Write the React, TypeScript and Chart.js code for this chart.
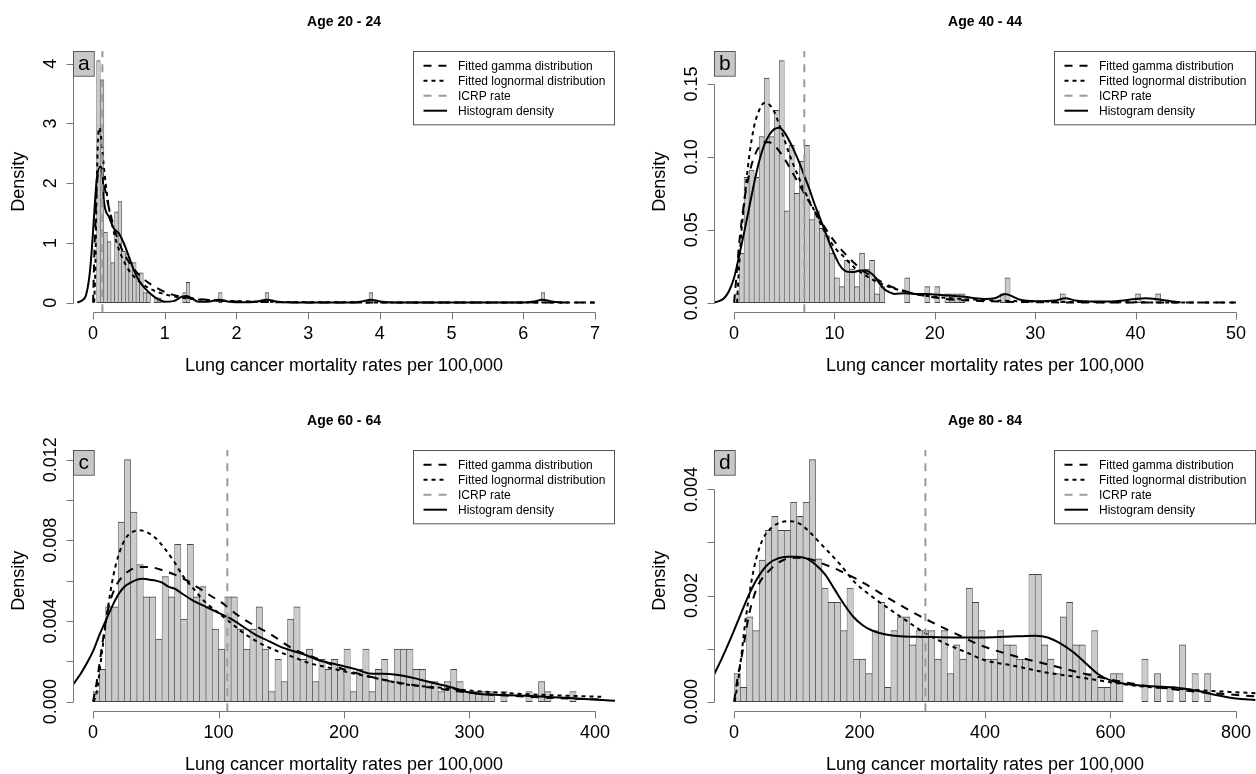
import React, { useEffect, useRef } from "react";
import { Chart, registerables } from "chart.js";

Chart.register(...registerables);

type Pt = [number, number];

const FONT = '"Liberation Sans", Arial, Helvetica, sans-serif';
const X_TITLE = "Lung cancer mortality rates per 100,000";
const Y_TITLE = "Density";
const LEGEND_TEXT = [
  "Fitted gamma distribution",
  "Fitted lognormal distribution",
  "ICRP rate",
  "Histogram density",
];

// ---------- Age 20 - 24 ----------
const A_TITLE = "Age 20 - 24";
const A_BIN_WIDTH = 0.05;
const A_BIN_LEFT = [0.05, 0.1, 0.15, 0.2, 0.25, 0.3, 0.35, 0.4, 0.45, 0.5, 0.55, 0.6, 0.65, 0.7, 0.75, 0.85, 0.9, 1.25, 1.3, 1.75, 2.4, 3.85, 6.25];
const A_DENSITY = [4.05, 3.73, 1.18, 1.02, 0.67, 1.52, 1.69, 0.86, 0.82, 0.67, 0.67, 0.5, 0.5, 0.17, 0.17, 0.08, 0.08, 0.17, 0.34, 0.17, 0.17, 0.17, 0.17];
const A_KDE: Pt[] = [
  [-0.22, 0], [-0.15, 0.04], [-0.1, 0.12], [-0.05, 0.45], [-0.02, 0.85], [0.01, 1.38], [0.05, 2.05],
  [0.1, 2.28], [0.13, 2.2], [0.15, 1.71], [0.22, 1.44], [0.29, 1.24], [0.36, 1.16], [0.43, 0.99],
  [0.5, 0.77], [0.57, 0.54], [0.64, 0.37], [0.73, 0.23], [0.83, 0.12], [0.92, 0.05], [1.0, 0.015],
  [1.12, 0.025], [1.24, 0.1], [1.31, 0.11], [1.38, 0.07], [1.47, 0.015], [1.6, 0.015], [1.75, 0.05],
  [1.9, 0.015], [2.1, 0.005], [2.3, 0.02], [2.42, 0.05], [2.55, 0.02], [2.75, 0.003], [3.6, 0.003],
  [3.75, 0.02], [3.87, 0.05], [4.0, 0.02], [4.2, 0.003], [6.0, 0.003], [6.15, 0.02], [6.27, 0.05],
  [6.4, 0.02], [6.55, 0],
];
const A_GAMMA: Pt[] = [
  [0.0, 0], [0.02, 0.9], [0.05, 1.9], [0.08, 2.2], [0.11, 2.22], [0.15, 2.0], [0.2, 1.7], [0.25, 1.45],
  [0.3, 1.22], [0.4, 0.9], [0.5, 0.68], [0.6, 0.52], [0.7, 0.4], [0.8, 0.31], [0.9, 0.24], [1.0, 0.18],
  [1.15, 0.12], [1.3, 0.085], [1.5, 0.055], [1.75, 0.032], [2.0, 0.02], [2.5, 0.008], [3, 0.003],
  [4, 0.0005], [5, 0.0001], [7, 0],
];
const A_LNORM: Pt[] = [
  [0.015, 0], [0.03, 0.5], [0.05, 1.9], [0.07, 2.75], [0.09, 2.93], [0.11, 2.8], [0.14, 2.4], [0.18, 1.95],
  [0.22, 1.6], [0.27, 1.28], [0.33, 1.0], [0.4, 0.77], [0.5, 0.54], [0.6, 0.4], [0.7, 0.3], [0.85, 0.2],
  [1.0, 0.14], [1.2, 0.09], [1.5, 0.05], [2.0, 0.025], [2.5, 0.013], [3, 0.008], [4, 0.003], [5, 0.0015],
  [7, 0.0004],
];
const A_ICRP = 0.13;
const A_XLIM = [0, 7];
const A_YLIM = [0, 4.05];
const A_X_TICKS = [0, 1, 2, 3, 4, 5, 6, 7];
const A_Y_TICKS = [0, 1, 2, 3, 4];
const A_Y_LABELS = ["0", "1", "2", "3", "4"];

// ---------- Age 40 - 44 ----------
const B_TITLE = "Age 40 - 44";
const B_BIN_START = 0;
const B_BIN_WIDTH = 0.5;
const B_DENSITY = [
  0.006, 0.034, 0.086, 0.091, 0.086, 0.114, 0.154, 0.114, 0.132, 0.166,
  0.063, 0.108, 0.075, 0.097, 0.108, 0.057, 0.063, 0.051, 0.046, 0.034,
  0.017, 0.011, 0.029, 0.023, 0.011, 0.034, 0.023, 0.029, 0.006, 0.011,
  0, 0, 0, 0, 0.017, 0, 0, 0, 0.011, 0,
  0.011, 0, 0.006, 0.006, 0.006, 0.006, 0, 0, 0, 0,
  0, 0, 0, 0.006, 0.017, 0, 0, 0, 0, 0,
  0, 0, 0, 0, 0, 0.006, 0, 0, 0, 0,
  0, 0, 0, 0, 0, 0, 0, 0, 0, 0,
  0.006, 0, 0, 0, 0.006,
];
const B_KDE: Pt[] = [
  [-2.1, 0], [-1.5, 0.001], [-1, 0.003], [-0.5, 0.008], [0, 0.017], [0.5, 0.032], [1, 0.048], [1.5, 0.065],
  [2, 0.082], [2.5, 0.097], [3, 0.108], [3.5, 0.115], [4, 0.119], [4.5, 0.12], [5, 0.117], [5.5, 0.111],
  [6, 0.104], [6.5, 0.096], [7, 0.087], [7.5, 0.078], [8, 0.068], [8.5, 0.059], [9, 0.05], [9.5, 0.041],
  [10, 0.033], [10.5, 0.026], [11, 0.022], [11.5, 0.021], [12, 0.021], [12.5, 0.022], [13, 0.022],
  [13.5, 0.021], [14, 0.018], [14.5, 0.013], [15, 0.009], [15.5, 0.007], [16, 0.006], [17, 0.0065],
  [18, 0.006], [19, 0.006], [20, 0.0055], [21, 0.005], [22, 0.0045], [23, 0.004], [24, 0.003], [25, 0.0025],
  [26, 0.003], [27, 0.006], [27.5, 0.005], [28.5, 0.002], [30, 0.001], [32, 0.0015], [33, 0.003],
  [34, 0.0015], [36, 0.0008], [38, 0.001], [40, 0.0025], [41, 0.003], [42, 0.0025], [43.5, 0.001],
  [44.5, 0.0002],
];
const B_GAMMA: Pt[] = [
  [0, 0], [0.2, 0.015], [0.5, 0.04], [1, 0.069], [1.5, 0.088], [2, 0.1], [2.5, 0.107], [3, 0.11],
  [3.5, 0.11], [4, 0.108], [4.5, 0.104], [5, 0.099], [6, 0.087], [7, 0.075], [8, 0.063], [9, 0.052],
  [10, 0.042], [11, 0.034], [12, 0.027], [13, 0.021], [14, 0.017], [15, 0.013], [16, 0.01], [17, 0.008],
  [18, 0.006], [20, 0.0035], [22, 0.002], [25, 0.001], [30, 0.0003], [35, 0.0001], [50, 0],
];
const B_LNORM: Pt[] = [
  [0.3, 0], [0.5, 0.025], [0.75, 0.05], [1, 0.068], [1.5, 0.1], [2, 0.121], [2.5, 0.132], [3, 0.137],
  [3.5, 0.136], [4, 0.131], [4.5, 0.122], [5, 0.112], [5.5, 0.102], [6, 0.093], [6.5, 0.085], [7, 0.077],
  [8, 0.063], [9, 0.049], [10, 0.038], [11, 0.031], [12, 0.024], [13, 0.019], [14, 0.015], [15, 0.012],
  [16, 0.0095], [18, 0.006], [20, 0.004], [25, 0.0017], [30, 0.0008], [40, 0.0002], [50, 0.0001],
];
const B_ICRP = 7.0;
const B_XLIM = [0, 50];
const B_YLIM = [0, 0.166];
const B_X_TICKS = [0, 10, 20, 30, 40, 50];
const B_Y_TICKS = [0, 0.05, 0.1, 0.15];
const B_Y_LABELS = ["0.00", "0.05", "0.10", "0.15"];

// ---------- Age 60 - 64 ----------
const C_TITLE = "Age 60 - 64";
const C_BIN_START = 0;
const C_BIN_WIDTH = 5;
const C_DENSITY = [
  0.0005, 0.0016, 0.0047, 0.0047, 0.0089, 0.012, 0.0094, 0.0068, 0.0052, 0.0052,
  0.0031, 0.0062, 0.0052, 0.0078, 0.0041, 0.0078, 0.0052, 0.0057, 0.0047, 0.0036,
  0.0026, 0.0052, 0.0052, 0.0036, 0.0026, 0.0036, 0.0047, 0.0026, 0.0005, 0.0021,
  0.001, 0.0041, 0.0047, 0.0021, 0.0026, 0.001, 0.0021, 0.0016, 0.0021, 0.0016,
  0.0026, 0.0005, 0.0016, 0.0026, 0.0005, 0.0016, 0.0021, 0.001, 0.0026, 0.0026,
  0.0026, 0.0016, 0.0016, 0.001, 0.001, 0.0005, 0.001, 0.0016, 0.001, 0.0005,
  0.0005, 0.0005, 0.0005, 0.0005, 0, 0.0005, 0, 0, 0, 0.0005,
  0, 0.001, 0.0005, 0, 0, 0, 0.0005,
];
const C_KDE: Pt[] = [
  [-16, 0.00085], [-10, 0.00137], [-5, 0.0019], [0, 0.0025], [5, 0.0033], [10, 0.004], [15, 0.0047],
  [20, 0.0053], [25, 0.0057], [30, 0.0059], [35, 0.00605], [40, 0.0061], [45, 0.00605], [50, 0.006],
  [55, 0.0059], [60, 0.0057], [65, 0.0056], [70, 0.0054], [80, 0.005], [90, 0.0047], [100, 0.0044],
  [110, 0.0041], [120, 0.0037], [130, 0.0033], [140, 0.003], [150, 0.0027], [160, 0.0025], [170, 0.0023],
  [180, 0.00205], [190, 0.0019], [200, 0.00175], [210, 0.0016], [220, 0.0014], [230, 0.00138],
  [240, 0.00135], [250, 0.00125], [260, 0.0011], [270, 0.00095], [280, 0.0008], [290, 0.00063],
  [300, 0.00045], [310, 0.00037], [320, 0.00034], [340, 0.0003], [360, 0.00024], [380, 0.00018],
  [400, 0.0001], [417, 0.00004],
];
const C_GAMMA: Pt[] = [
  [0, 0], [3, 0.001], [7, 0.0027], [12, 0.0046], [18, 0.0057], [25, 0.0063], [32, 0.0066], [40, 0.00668],
  [48, 0.00665], [56, 0.0065], [65, 0.0063], [75, 0.006], [85, 0.0056], [95, 0.0052], [105, 0.0048],
  [115, 0.0043], [125, 0.0039], [140, 0.0034], [160, 0.0026], [180, 0.0021], [200, 0.0016], [220, 0.00125],
  [240, 0.00098], [260, 0.00078], [280, 0.0006], [300, 0.00045], [330, 0.0003], [360, 0.0002], [405, 0.0001],
];
const C_LNORM: Pt[] = [
  [0.5, 0], [3, 0.0005], [7, 0.0024], [11, 0.0043], [16, 0.0062], [21, 0.0074], [26, 0.0081], [31, 0.0084],
  [37, 0.0085], [43, 0.0084], [50, 0.0081], [57, 0.0076], [64, 0.007], [72, 0.0062], [80, 0.0056],
  [90, 0.0049], [100, 0.0044], [110, 0.0039], [120, 0.0034], [133, 0.0029], [147, 0.0025], [160, 0.0022],
  [173, 0.0019], [187, 0.0017], [200, 0.0015], [215, 0.0013], [230, 0.0011], [250, 0.00085], [275, 0.0007],
  [300, 0.00055], [330, 0.00042], [360, 0.00033], [405, 0.00024],
];
const C_ICRP = 107;
const C_XLIM = [0, 400];
const C_YLIM = [0, 0.012];
const C_X_TICKS = [0, 100, 200, 300, 400];
const C_Y_TICKS = [0, 0.002, 0.004, 0.006, 0.008, 0.01, 0.012];
const C_Y_LABELS = ["0.000", "", "0.004", "", "0.008", "", "0.012"];

// ---------- Age 80 - 84 ----------
const D_TITLE = "Age 80 - 84";
const D_BIN_START = 0;
const D_BIN_WIDTH = 10;
const D_DENSITY = [
  0.00053, 0.00027, 0.0016, 0.00134, 0.00267, 0.00323, 0.00349, 0.00323, 0.00323, 0.00376,
  0.00349, 0.00376, 0.00456, 0.00269, 0.00214, 0.00187, 0.00187, 0.00134, 0.00214, 0.0008,
  0.0008, 0.00053, 0.00134, 0.00187, 0.00027, 0.00134, 0.0016, 0.0016, 0.00107, 0.00134,
  0.00134, 0.00134, 0.0008, 0.00134, 0.00053, 0.00107, 0.0008, 0.00214, 0.00187, 0.00134,
  0.0008, 0.0008, 0.00134, 0.00107, 0.00107, 0.0008, 0.0008, 0.0024, 0.0024, 0.00107,
  0.0008, 0.00053, 0.0016, 0.00187, 0.00107, 0.00107, 0.00053, 0.00134, 0.00027, 0.00027,
  0.00053, 0.00053, 0, 0, 0, 0.0008, 0, 0.00053, 0, 0.00027,
  0, 0.00107, 0, 0.00053, 0, 0.00053,
];
const D_KDE: Pt[] = [
  [-34, 0.00046], [-20, 0.0008], [-5, 0.0012], [10, 0.00163], [25, 0.00205], [40, 0.00238], [55, 0.0026],
  [70, 0.0027], [85, 0.00273], [100, 0.00273], [115, 0.0027], [130, 0.00258], [145, 0.0024], [160, 0.00212],
  [175, 0.00184], [190, 0.0016], [205, 0.00144], [220, 0.00134], [240, 0.00127], [265, 0.00123],
  [300, 0.00122], [350, 0.00121], [400, 0.00121], [450, 0.00123], [480, 0.00124], [500, 0.00121],
  [520, 0.0011], [540, 0.00094], [560, 0.00073], [580, 0.00052], [600, 0.0004], [620, 0.00034],
  [650, 0.0003], [700, 0.00027], [740, 0.0002], [770, 0.00012], [800, 0.00006], [831, 0.00003],
];
const D_GAMMA: Pt[] = [
  [0, 0], [5, 0.0004], [13, 0.0009], [24, 0.00165], [37, 0.00216], [56, 0.00247], [77, 0.00266],
  [98, 0.00271], [120, 0.00269], [141, 0.0026], [168, 0.00247], [200, 0.00228], [231, 0.00206],
  [263, 0.00183], [295, 0.00162], [327, 0.00143], [359, 0.00125], [391, 0.00107], [444, 0.00087],
  [497, 0.00071], [550, 0.00055], [603, 0.00041], [656, 0.0003], [709, 0.00022], [762, 0.00016],
  [831, 0.0001],
];
const D_LNORM: Pt[] = [
  [1, 0], [8, 0.00052], [19, 0.0016], [32, 0.00253], [45, 0.00304], [60, 0.00328], [75, 0.00338],
  [90, 0.0034], [105, 0.00335], [120, 0.0032], [141, 0.00294], [168, 0.0026], [194, 0.00223],
  [221, 0.00197], [247, 0.00175], [274, 0.00153], [306, 0.00128], [338, 0.00109], [370, 0.00093],
  [400, 0.00078], [444, 0.00068], [497, 0.00055], [550, 0.00046], [603, 0.00036], [656, 0.00028],
  [709, 0.00024], [762, 0.0002], [831, 0.00016],
];
const D_ICRP = 305;
const D_XLIM = [0, 800];
const D_YLIM = [0, 0.00456];
const D_X_TICKS = [0, 200, 400, 600, 800];
const D_Y_TICKS = [0, 0.001, 0.002, 0.003, 0.004];
const D_Y_LABELS = ["0.000", "", "0.002", "", "0.004"];

// ---------- styling ----------
const BAR_FILL = "#cbcbcb";
const BAR_EDGE = "#454545";
const AXIS_COLOR = "#777777";
const ICRP_COLOR = "#9a9a9a";
const GAMMA_DASH = [8, 7];
const LNORM_DASH = [4, 4];
const ICRP_DASH = [8, 7];
const TICK_LEN = 7;
const AXIS_EXPAND = 0.04; // R-style 4% range expansion

interface Panel {
  letter: string;
  title: string;
  binLeft: number[];
  binWidth: number;
  density: number[];
  kde: Pt[];
  gamma: Pt[];
  lnorm: Pt[];
  icrp: number;
  xlim: number[];
  ylim: number[];
  xTicks: number[];
  yTicks: number[];
  yLabels: string[];
}

interface Frame {
  left: number;
  top: number;
  width: number;
  height: number;
  plotLeft: number;
  plotRight: number;
  plotTop: number;
  plotBottom: number;
}

const evenBins = (start: number, width: number, dens: number[]) => dens.map((_, i) => start + i * width);

const PANELS: Panel[] = [
  { letter: "a", title: A_TITLE, binLeft: A_BIN_LEFT, binWidth: A_BIN_WIDTH, density: A_DENSITY, kde: A_KDE, gamma: A_GAMMA, lnorm: A_LNORM, icrp: A_ICRP, xlim: A_XLIM, ylim: A_YLIM, xTicks: A_X_TICKS, yTicks: A_Y_TICKS, yLabels: A_Y_LABELS },
  { letter: "b", title: B_TITLE, binLeft: evenBins(B_BIN_START, B_BIN_WIDTH, B_DENSITY), binWidth: B_BIN_WIDTH, density: B_DENSITY, kde: B_KDE, gamma: B_GAMMA, lnorm: B_LNORM, icrp: B_ICRP, xlim: B_XLIM, ylim: B_YLIM, xTicks: B_X_TICKS, yTicks: B_Y_TICKS, yLabels: B_Y_LABELS },
  { letter: "c", title: C_TITLE, binLeft: evenBins(C_BIN_START, C_BIN_WIDTH, C_DENSITY), binWidth: C_BIN_WIDTH, density: C_DENSITY, kde: C_KDE, gamma: C_GAMMA, lnorm: C_LNORM, icrp: C_ICRP, xlim: C_XLIM, ylim: C_YLIM, xTicks: C_X_TICKS, yTicks: C_Y_TICKS, yLabels: C_Y_LABELS },
  { letter: "d", title: D_TITLE, binLeft: evenBins(D_BIN_START, D_BIN_WIDTH, D_DENSITY), binWidth: D_BIN_WIDTH, density: D_DENSITY, kde: D_KDE, gamma: D_GAMMA, lnorm: D_LNORM, icrp: D_ICRP, xlim: D_XLIM, ylim: D_YLIM, xTicks: D_X_TICKS, yTicks: D_Y_TICKS, yLabels: D_Y_LABELS },
];

const FRAMES: Frame[] = [
  { left: 0, top: 0, width: 640, height: 390, plotLeft: 73, plotRight: 615, plotTop: 51, plotBottom: 312.3 },
  { left: 640, top: 0, width: 616, height: 390, plotLeft: 74, plotRight: 616, plotTop: 51, plotBottom: 312.3 },
  { left: 0, top: 390, width: 640, height: 384, plotLeft: 73, plotRight: 615, plotTop: 60, plotBottom: 321.3 },
  { left: 640, top: 390, width: 616, height: 384, plotLeft: 74, plotRight: 616, plotTop: 60, plotBottom: 321.3 },
];

const expand = (lim: number[]) => {
  const span = lim[1] - lim[0];
  return [lim[0] - span * AXIS_EXPAND, lim[1] + span * AXIS_EXPAND];
};

const toXY = (pts: Pt[]) => pts.map(([x, y]) => ({ x, y }));

// Draws the base-graphics style axes, titles, legend and panel tag.
function basePlotFrame(p: Panel) {
  return {
    id: "basePlotFrame",
    afterDraw(chart: any) {
      const ctx: CanvasRenderingContext2D = chart.ctx;
      const area = chart.chartArea;
      const xs = chart.scales.x;
      const ys = chart.scales.y;
      const xp = (v: number) => Math.round(xs.getPixelForValue(v)) + 0.5;
      const yp = (v: number) => Math.round(ys.getPixelForValue(v)) + 0.5;

      ctx.save();
      ctx.setLineDash([]);
      ctx.strokeStyle = AXIS_COLOR;
      ctx.lineWidth = 1;
      ctx.beginPath();
      const yAxis = Math.round(area.bottom) + 0.5;
      ctx.moveTo(xp(p.xTicks[0]), yAxis);
      ctx.lineTo(xp(p.xTicks[p.xTicks.length - 1]), yAxis);
      p.xTicks.forEach((t) => {
        ctx.moveTo(xp(t), yAxis);
        ctx.lineTo(xp(t), yAxis + TICK_LEN);
      });
      const xAxis = Math.round(area.left) + 0.5;
      ctx.moveTo(xAxis, yp(p.yTicks[0]));
      ctx.lineTo(xAxis, yp(p.yTicks[p.yTicks.length - 1]));
      p.yTicks.forEach((t) => {
        ctx.moveTo(xAxis, yp(t));
        ctx.lineTo(xAxis - TICK_LEN, yp(t));
      });
      ctx.stroke();

      ctx.fillStyle = "#000";
      ctx.font = `18px ${FONT}`;
      ctx.textAlign = "center";
      ctx.textBaseline = "middle";
      p.xTicks.forEach((t) => ctx.fillText(String(t), xs.getPixelForValue(t), area.bottom + 22));
      p.yTicks.forEach((t, i) => {
        if (!p.yLabels[i]) return;
        ctx.save();
        ctx.translate(area.left - 22, ys.getPixelForValue(t));
        ctx.rotate(-Math.PI / 2);
        ctx.fillText(p.yLabels[i], 0, 0);
        ctx.restore();
      });

      const midX = (area.left + area.right) / 2;
      ctx.fillText(X_TITLE, midX, area.bottom + 54);
      ctx.save();
      ctx.translate(area.left - 54, (area.top + area.bottom) / 2);
      ctx.rotate(-Math.PI / 2);
      ctx.fillText(Y_TITLE, 0, 0);
      ctx.restore();

      ctx.font = `bold 14px ${FONT}`;
      ctx.textBaseline = "alphabetic";
      ctx.fillText(p.title, midX, area.top - 25);

      // legend box in the top-right corner
      const lw = 202;
      const lh = 74.3;
      const lx = area.right - lw;
      const ly = area.top;
      ctx.fillStyle = "#fff";
      ctx.fillRect(lx, ly, lw, lh);
      ctx.strokeStyle = "#555";
      ctx.lineWidth = 1;
      ctx.strokeRect(Math.round(lx) + 0.5, Math.round(ly) + 0.5, lw - 1, lh - 1);
      const keys = [
        { color: "#000", dash: GAMMA_DASH },
        { color: "#000", dash: LNORM_DASH },
        { color: ICRP_COLOR, dash: ICRP_DASH },
        { color: "#000", dash: [] as number[] },
      ];
      ctx.font = `12px ${FONT}`;
      ctx.textAlign = "left";
      ctx.textBaseline = "middle";
      keys.forEach((k, i) => {
        const y = ly + 14.7 + i * 15;
        ctx.strokeStyle = k.color;
        ctx.lineWidth = 2;
        ctx.setLineDash(k.dash);
        ctx.beginPath();
        ctx.moveTo(lx + 10.5, y);
        ctx.lineTo(lx + 34, y);
        ctx.stroke();
        ctx.setLineDash([]);
        ctx.fillStyle = "#000";
        ctx.fillText(LEGEND_TEXT[i], lx + 45, y + 0.5);
      });

      // panel tag
      const tw = 20.7;
      const th = 24.7;
      ctx.fillStyle = "#c8c8c8";
      ctx.fillRect(area.left, area.top, tw, th);
      ctx.strokeStyle = "#555";
      ctx.lineWidth = 1;
      ctx.strokeRect(Math.round(area.left) + 0.5, Math.round(area.top) + 0.5, tw, th);
      ctx.fillStyle = "#000";
      ctx.font = `21px ${FONT}`;
      ctx.textAlign = "center";
      ctx.textBaseline = "middle";
      ctx.fillText(p.letter, area.left + tw / 2 + 0.5, area.top + th / 2 + 1);
      ctx.restore();
    },
  };
}

function buildConfig(p: Panel, f: Frame): any {
  const [xMin, xMax] = expand(p.xlim);
  const [yMin, yMax] = expand(p.ylim);
  const bars = p.binLeft.map((l, i) => ({ x: l + p.binWidth / 2, y: p.density[i] }));
  const line = (pts: Pt[], dash: number[], order: number) => ({
    type: "line",
    data: toXY(pts),
    borderColor: "#000",
    borderWidth: 2,
    borderDash: dash,
    pointRadius: 0,
    fill: false,
    cubicInterpolationMode: "monotone",
    order,
  });
  return {
    type: "bar",
    data: {
      datasets: [
        {
          type: "line",
          data: [
            { x: p.icrp, y: yMin },
            { x: p.icrp, y: yMax },
          ],
          borderColor: ICRP_COLOR,
          borderWidth: 2,
          borderDash: ICRP_DASH,
          pointRadius: 0,
          fill: false,
          order: 0,
        },
        line(p.kde, [], 1),
        line(p.lnorm, LNORM_DASH, 2),
        line(p.gamma, GAMMA_DASH, 3),
        {
          type: "bar",
          data: bars,
          backgroundColor: BAR_FILL,
          borderColor: BAR_EDGE,
          borderWidth: { top: 1, bottom: 1, left: 0.6, right: 0.6 },
          borderSkipped: false,
          barPercentage: 1,
          categoryPercentage: 1,
          order: 10,
        },
      ],
    },
    options: {
      responsive: false,
      animation: false,
      devicePixelRatio: 1,
      events: [],
      layout: {
        padding: {
          left: f.plotLeft,
          right: f.width - f.plotRight,
          top: f.plotTop,
          bottom: f.height - f.plotBottom,
        },
      },
      plugins: {
        legend: { display: false },
        tooltip: { enabled: false },
        title: { display: false },
      },
      scales: {
        x: { type: "linear", min: xMin, max: xMax, display: false, offset: false, grid: { offset: false } },
        y: { type: "linear", min: yMin, max: yMax, display: false },
      },
    },
    plugins: [basePlotFrame(p)],
  };
}

function HistPanel({ panel, frame }: { panel: Panel; frame: Frame }) {
  const ref = useRef<HTMLCanvasElement>(null);
  useEffect(() => {
    if (!ref.current) return;
    const chart = new Chart(ref.current, buildConfig(panel, frame));
    return () => chart.destroy();
  }, [panel, frame]);
  return (
    <canvas
      ref={ref}
      width={frame.width}
      height={frame.height}
      style={{ position: "absolute", left: frame.left, top: frame.top, width: frame.width, height: frame.height }}
    />
  );
}

export default function App() {
  return (
    <div style={{ position: "absolute", left: 0, top: 0, width: 1256, height: 774, background: "#fff", overflow: "hidden" }}>
      {PANELS.map((p, i) => (
        <HistPanel key={p.letter} panel={p} frame={FRAMES[i]} />
      ))}
    </div>
  );
}
